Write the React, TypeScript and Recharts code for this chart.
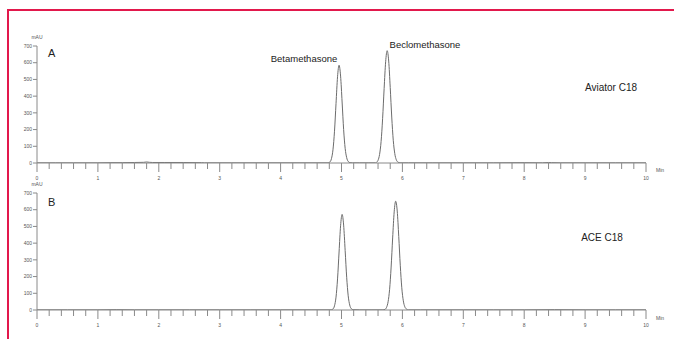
import React from "react";
import { LineChart, Line, XAxis, YAxis } from "recharts";

// Panel A (Aviator C18): retention time (min) and absorbance (mAU)
const timeA = [
  0, 0.3, 0.6, 1.0, 1.2, 1.4, 1.6, 1.75, 1.8, 1.85,
  1.9, 2.1, 2.4, 2.7, 2.75, 3.2, 3.8, 4.4, 4.78, 4.81,
  4.835, 4.86, 4.885, 4.91, 4.935, 4.96, 4.985, 5.01, 5.035, 5.06,
  5.085, 5.11, 5.14, 5.18, 5.3, 5.45, 5.56, 5.575, 5.6, 5.625,
  5.65, 5.675, 5.7, 5.725, 5.75, 5.775, 5.8, 5.825, 5.85, 5.875,
  5.9, 5.925, 5.96, 6.1, 6.5, 7.0, 7.5, 8.0, 8.3, 8.4,
  8.45, 8.6, 9.0, 9.5, 10,
];
const signalA = [
  1, 1, 1, 1, 2, 2, 3, 4, 6, 4,
  3, 3, 3, 2, 1, 1, 1, 1, 1, 6,
  26, 79, 190, 355, 516, 585, 520, 365, 200, 88,
  32, 9, 2, 1, 1, 1, 1, 4, 16, 51,
  128, 265, 445, 606, 672, 610, 452, 275, 136, 56,
  19, 6, 1, 1, 1, 1, 1, 2, 1, 3,
  2, 1, 1, 1, 1,
];

// Panel B (ACE C18)
const timeB = [
  0, 0.5, 1.0, 1.3, 1.6, 2.0, 2.5, 3.0, 3.5, 4.0,
  4.5, 4.83, 4.86, 4.885, 4.91, 4.935, 4.96, 4.985, 5.01, 5.035,
  5.06, 5.085, 5.11, 5.135, 5.16, 5.19, 5.3, 5.5, 5.68, 5.715,
  5.74, 5.765, 5.79, 5.815, 5.84, 5.865, 5.89, 5.915, 5.94, 5.965,
  5.99, 6.015, 6.04, 6.065, 6.1, 6.3, 7.0, 7.5, 8.0, 8.5,
  9.0, 9.5, 10,
];
const signalB = [
  1, 1, 1, 2, 1, 1, 1, 1, 1, 1,
  1, 1, 6, 25, 77, 186, 347, 504, 572, 508,
  356, 196, 85, 30, 8, 2, 1, 1, 1, 4,
  16, 49, 124, 257, 431, 587, 651, 592, 440, 268,
  133, 55, 19, 6, 1, 1, 1, 1, 1, 2,
  1, 1, 1,
];

const yTicks = [0, 100, 200, 300, 400, 500, 600, 700];
const xMajorLabels = [0, 1, 2, 3, 4, 5, 6, 7, 8, 9, 10];
const xMinorStep = 0.2;

const xTicks: number[] = [];
for (let i = 0; i <= 50; i++) xTicks.push(Math.round(i * xMinorStep * 100) / 100);

const dataA = timeA.map((t, i) => ({ t, v: signalA[i] }));
const dataB = timeB.map((t, i) => ({ t, v: signalB[i] }));

const FONT = "Arial, 'Liberation Sans', sans-serif";
const AXIS = "#8a8a8a";
const TICKTXT = "#555";

const XTick = (props: any) => {
  const { x, y, payload } = props;
  const v = payload.value;
  const major = xMajorLabels.some((m) => Math.abs(m - v) < 1e-6);
  return (
    <g>
      <line x1={x} x2={x} y1={y} y2={y + (major ? 9 : 6)} stroke={AXIS} strokeWidth={1} />
      {major && (
        <text x={x} y={y + 17} textAnchor="middle" fontSize={5} fill={TICKTXT} fontFamily={FONT}>
          {Math.round(v)}
        </text>
      )}
    </g>
  );
};

const Panel = ({ data }: { data: { t: number; v: number }[] }) => (
  <LineChart width={674} height={185} data={data} margin={{ top: 46, right: 28, left: 0, bottom: 0 }}>
    <XAxis
      dataKey="t"
      type="number"
      domain={[0, 10]}
      ticks={xTicks}
      interval={0}
      tickSize={0}
      tickMargin={0}
      tickLine={false}
      tick={<XTick />}
      height={22}
      axisLine={{ stroke: AXIS, strokeWidth: 1.2 }}
      allowDataOverflow
    />
    <YAxis
      type="number"
      domain={[0, 700]}
      ticks={yTicks}
      interval={0}
      width={37}
      tickSize={4}
      tickMargin={1}
      tick={{ fontSize: 5, fill: TICKTXT, fontFamily: FONT }}
      tickLine={{ stroke: AXIS }}
      axisLine={{ stroke: AXIS }}
      allowDataOverflow
    />
    <Line
      type="monotone"
      dataKey="v"
      stroke="#6c6c6c"
      strokeWidth={1}
      dot={false}
      isAnimationActive={false}
    />
  </LineChart>
);

const Txt = ({ x, y, size, children, anchor = "left", color = "#222" }: any) => (
  <div
    style={{
      position: "absolute",
      left: x,
      top: y - size / 2,
      fontSize: size,
      lineHeight: `${size}px`,
      fontFamily: FONT,
      color,
      whiteSpace: "nowrap",
      transform: anchor === "center" ? "translateX(-50%)" : undefined,
    }}
  >
    {children}
  </div>
);

export default function App() {
  return (
    <div style={{ position: "absolute", left: 0, top: 0, width: 674, height: 339, background: "#fff", overflow: "hidden" }}>
      <div
        style={{
          position: "absolute",
          left: 7,
          top: 9,
          width: 667,
          height: 329,
          borderTop: "2px solid #e2184c",
          borderLeft: "2px solid #e2184c",
        }}
      />
      <div style={{ position: "absolute", left: 0, top: 0 }}>
        <Panel data={dataA} />
      </div>
      <div style={{ position: "absolute", left: 0, top: 147 }}>
        <Panel data={dataB} />
      </div>

      <Txt x={37} y={37} size={5} anchor="center" color={TICKTXT}>mAU</Txt>
      <Txt x={37} y={184} size={5} anchor="center" color={TICKTXT}>mAU</Txt>
      <Txt x={660} y={170} size={5} anchor="center" color={TICKTXT}>Min</Txt>
      <Txt x={660} y={318} size={5} anchor="center" color={TICKTXT}>Min</Txt>

      <Txt x={48} y={53} size={11}>A</Txt>
      <Txt x={48} y={202} size={11}>B</Txt>
      <Txt x={304} y={59} size={9.5} anchor="center">Betamethasone</Txt>
      <Txt x={425} y={45} size={9.5} anchor="center">Beclomethasone</Txt>
      <Txt x={611} y={88} size={10} anchor="center">Aviator C18</Txt>
      <Txt x={602} y={238} size={10} anchor="center">ACE C18</Txt>
    </div>
  );
}
